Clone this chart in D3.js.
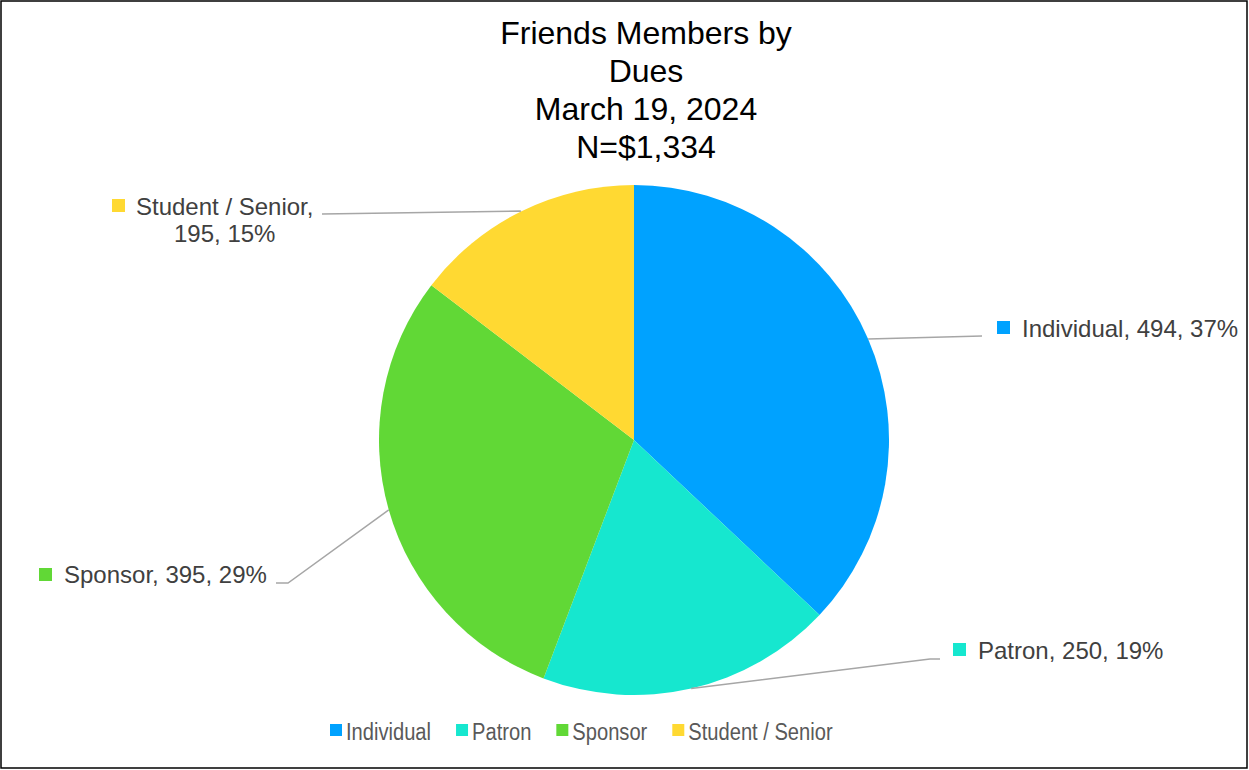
<!DOCTYPE html>
<html>
<head>
    <meta charset="utf-8">
    <style>
        body { margin: 0; background: #fff; }
        text { font-family: "Liberation Sans", Arial, sans-serif; }
    </style>
</head>
<body>
    <svg width="1249" height="770"></svg>
    <script src="https://d3js.org/d3.v7.min.js"></script>
    <script>
        // data
        let categories = ["Individual", "Patron", "Sponsor", "Student / Senior"];
        let members = [494, 250, 395, 195];
        let colors = ["#00A2FF", "#16E7CF", "#61D836", "#FFD932"];
        let titleLines = ["Friends Members by", "Dues", "March 19, 2024", "N=$1,334"];

        let svg = d3.select("svg");
        let cx = 634, cy = 440, radius = 255;

        svg.append("rect")
            .attr("x", 1).attr("y", 1)
            .attr("width", 1246).attr("height", 767)
            .attr("fill", "#fff")
            .attr("stroke", "#000")
            .attr("stroke-width", 1.5);

        // title
        svg.append("g").selectAll("text")
            .data(titleLines)
            .enter().append("text")
            .attr("x", 646)
            .attr("y", (d, i) => 44 + i * 38)
            .attr("text-anchor", "middle")
            .attr("font-size", 32)
            .attr("fill", "#000")
            .text(d => d);

        // percentages rounded so they add up to 100 (largest remainder)
        let total = d3.sum(members);
        let raw = members.map(v => v / total * 100);
        let pcts = raw.map(Math.floor);
        let left = 100 - d3.sum(pcts);
        d3.range(raw.length)
            .sort((a, b) => (raw[b] - pcts[b]) - (raw[a] - pcts[a]))
            .slice(0, left)
            .forEach(i => pcts[i] += 1);

        let pie = d3.pie().sort(null).value(d => d.value);
        let arcs = pie(categories.map((c, i) => ({ name: c, value: members[i], color: colors[i], pct: pcts[i] })));
        let arc = d3.arc().innerRadius(0).outerRadius(radius);

        let g = svg.append("g").attr("transform", `translate(${cx},${cy})`);
        g.selectAll("path")
            .data(arcs)
            .enter().append("path")
            .attr("d", arc)
            .attr("fill", d => d.data.color);

        // label layout: elbow point, line end, swatch and text position
        let labelLayout = [
            { elbow: [982, 336], end: [982, 336], sq: [997, 321], tx: 1022, ty: 337 },
            { elbow: [930, 659], end: [940, 659], sq: [953, 643], tx: 978, ty: 659 },
            { elbow: [288, 583], end: [276, 583], sq: [39, 568], tx: 64, ty: 583 },
            { elbow: [520, 211], end: [322, 214], sq: [112, 199], tx: 136, ty: 215 }
        ];

        let labels = svg.append("g");
        arcs.forEach(function(d, i) {
            let mid = (d.startAngle + d.endAngle) / 2;
            let px = cx + radius * Math.sin(mid);
            let py = cy - radius * Math.cos(mid);
            let L = labelLayout[i];
            labels.append("polyline")
                .attr("points", [[px, py], L.elbow, L.end].map(p => p.join(",")).join(" "))
                .attr("fill", "none")
                .attr("stroke", "#a6a6a6")
                .attr("stroke-width", 1.5);
            labels.append("rect")
                .attr("x", L.sq[0]).attr("y", L.sq[1])
                .attr("width", 13).attr("height", 13)
                .attr("fill", d.data.color);
            let pct = d.data.pct + "%";
            if (i === 3) {
                let t1 = labels.append("text")
                    .attr("x", L.tx).attr("y", L.ty)
                    .attr("font-size", 24).attr("fill", "#404040")
                    .text(d.data.name + ",");
                let w = t1.node().getComputedTextLength();
                labels.append("text")
                    .attr("x", L.tx + w / 2).attr("y", L.ty + 27)
                    .attr("text-anchor", "middle")
                    .attr("font-size", 24).attr("fill", "#404040")
                    .text(d.data.value + ", " + pct);
            } else {
                labels.append("text")
                    .attr("x", L.tx).attr("y", L.ty)
                    .attr("font-size", 24).attr("fill", "#404040")
                    .text(d.data.name + ", " + d.data.value + ", " + pct);
            }
        });

        // legend (text a little condensed, like the original)
        let legend = svg.append("g");
        let lx = 330, squeeze = 0.875;
        categories.forEach(function(c, i) {
            legend.append("rect")
                .attr("x", lx).attr("y", 724)
                .attr("width", 12).attr("height", 12)
                .attr("fill", colors[i]);
            let t = legend.append("text")
                .attr("transform", `translate(${lx + 16},740) scale(${squeeze},1)`)
                .attr("font-size", 23)
                .attr("fill", "#595959")
                .text(c);
            lx += 16 + t.node().getComputedTextLength() * squeeze + 25;
        });
    </script>
</body>
</html>
